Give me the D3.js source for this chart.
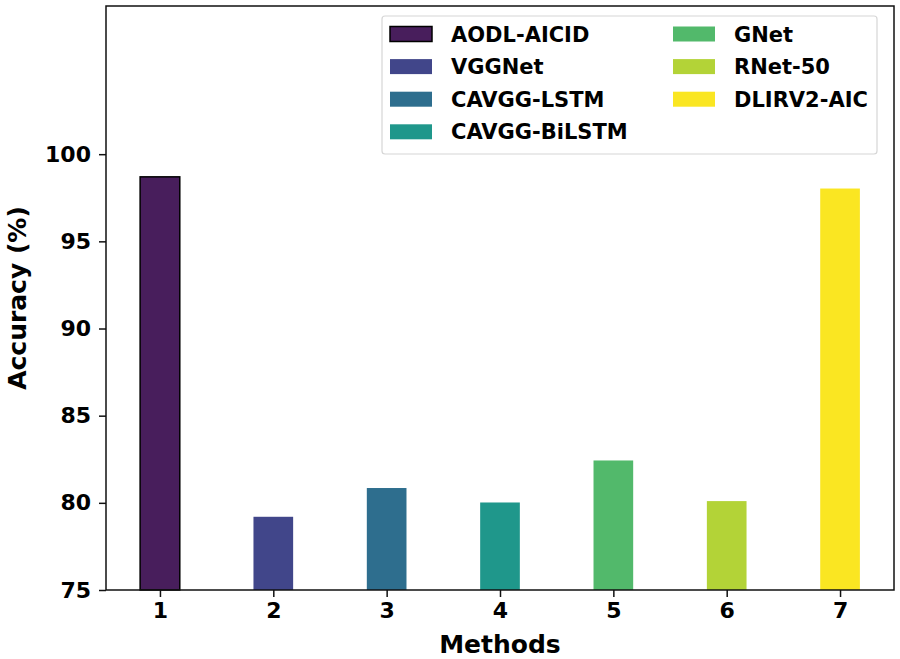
<!DOCTYPE html>
<html>
<head>
<meta charset="utf-8">
<style>
  body { margin: 0; background: #fff; }
  svg text { font-family: "DejaVu Sans", sans-serif; font-weight: bold; fill: #000; }
</style>
</head>
<body>
<svg></svg>
<script src="https://cdn.jsdelivr.net/npm/d3@7"></script>
<script>
let width = 900, height = 659;

// data
let methods = ["AODL-AICID", "VGGNet", "CAVGG-LSTM", "CAVGG-BiLSTM", "GNet", "RNet-50", "DLIRV2-AIC"];
let positions = [1, 2, 3, 4, 5, 6, 7];
let accuracy = [98.7, 79.2, 80.85, 80.02, 82.43, 80.1, 98.03];
let colors = ["#481e5c", "#41468a", "#2e6e8e", "#1f978b", "#52b96b", "#b3d337", "#fae622"];
let yTicks = [75, 80, 85, 90, 95, 100];

let margin = { left: 106, right: 6, top: 6, bottom: 69 };

let svg = d3.select("svg").attr("width", width).attr("height", height);

let x = d3.scaleLinear().domain([0.524, 7.476]).range([margin.left, width - margin.right]);
let y = d3.scaleLinear().domain([75, 108.5]).range([height - margin.bottom, margin.top]);
let barW = x(1.35) - x(1);

// bars
svg.append("g")
    .selectAll("rect")
    .data(accuracy)
    .enter()
    .append("rect")
    .attr("x", (d, i) => x(positions[i]) - barW / 2)
    .attr("y", d => y(d))
    .attr("width", barW)
    .attr("height", d => y(75) - y(d))
    .attr("fill", (d, i) => colors[i])
    .attr("stroke", (d, i) => i == 0 ? "#000" : "none")
    .attr("stroke-width", 1.5);

// axes
let xAxis = svg.append("g")
    .attr("transform", "translate(0," + (height - margin.bottom) + ")")
    .call(d3.axisBottom(x).tickValues(positions).tickFormat(d3.format("d")).tickSizeOuter(0).tickSize(7).tickPadding(5));
let yAxis = svg.append("g")
    .attr("transform", "translate(" + margin.left + ",0)")
    .call(d3.axisLeft(y).tickValues(yTicks).tickSizeOuter(0).tickSize(7).tickPadding(8));
[xAxis, yAxis].forEach(a => {
    a.select(".domain").remove();
    a.selectAll("line").attr("stroke", "#111").attr("stroke-width", 1.5);
    a.selectAll("text").style("font-size", "22px").attr("fill", "#000");
});

// frame
svg.append("rect")
    .attr("x", margin.left).attr("y", margin.top)
    .attr("width", width - margin.left - margin.right)
    .attr("height", height - margin.top - margin.bottom)
    .attr("fill", "none").attr("stroke", "#111").attr("stroke-width", 1.5);

// labels
svg.append("text")
    .attr("x", (margin.left + width - margin.right) / 2)
    .attr("y", 653)
    .attr("text-anchor", "middle")
    .style("font-size", "25px")
    .text("Methods");
svg.append("text")
    .attr("transform", "translate(26," + ((margin.top + height - margin.bottom) / 2) + ") rotate(-90)")
    .attr("text-anchor", "middle")
    .style("font-size", "25px")
    .text("Accuracy (%)");

// legend
let legend = svg.append("g");
legend.append("rect")
    .attr("x", 382).attr("y", 16).attr("width", 495).attr("height", 138)
    .attr("rx", 3).attr("fill", "#fff").attr("stroke", "#d6d6d6").attr("stroke-width", 1.2);
let items = legend.selectAll("g.item")
    .data(methods)
    .enter()
    .append("g")
    .attr("transform", (d, i) => {
        let col = i < 4 ? 0 : 1, row = i < 4 ? i : i - 4;
        return "translate(" + (col == 0 ? 390 : 673) + "," + (34 + row * 32.6) + ")";
    });
items.append("rect")
    .attr("x", 0).attr("y", -7.5).attr("width", 42).attr("height", 15)
    .attr("fill", (d, i) => colors[i])
    .attr("stroke", (d, i) => i == 0 ? "#000" : "none")
    .attr("stroke-width", 1.5);
items.append("text")
    .attr("x", 61).attr("y", 7.5)
    .style("font-size", "21px")
    .text(d => d);
</script>
</body>
</html>
